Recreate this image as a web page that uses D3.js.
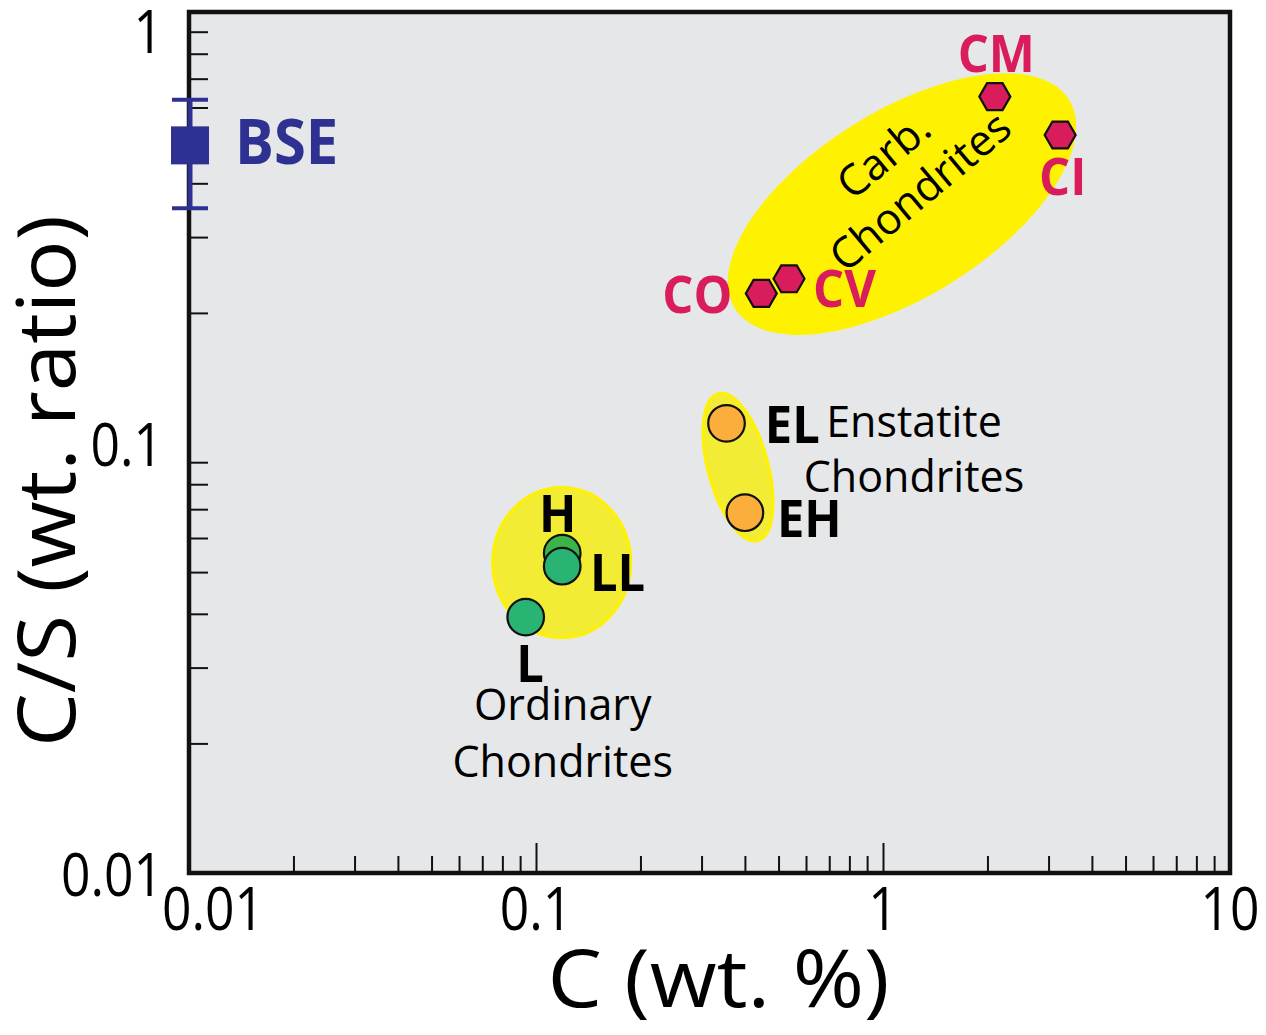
<!DOCTYPE html>
<html>
<head>
<meta charset="utf-8">
<script src="https://cdn.jsdelivr.net/npm/d3@7"></script>
<style>
  html, body { margin: 0; padding: 0; background: #fff; }
  svg { display: block; }
</style>
</head>
<body>
<svg id="chart" width="1266" height="1035"></svg>
<script>
// ---- Data: carbon content (wt.%) and C/S weight ratio ----
const carbNames = ["CM", "CI", "CO", "CV"];
const carbC     = [2.10, 3.24, 0.446, 0.536];
const carbCS    = [0.636, 0.518, 0.222, 0.240];

const ordNames  = ["H", "LL", "L"];
const ordC      = [0.119, 0.119, 0.0934];
const ordCS     = [0.0553, 0.0516, 0.0393];

const enstNames = ["EL", "EH"];
const enstC     = [0.354, 0.400];
const enstCS    = [0.1108, 0.0687];

// Bulk silicate Earth: C/S with its uncertainty range
const bseName = "BSE";
const bseC    = 0.01;
const bseCS   = 0.49;
const bseLow  = 0.35;
const bseHigh = 0.625;

// Group outlines (centre in data units)
const groupNames = ["carb", "ord", "enst"];
const groupC     = [1.134, 0.1186, 0.382];
const groupCS    = [0.358, 0.0526, 0.0877];

// Axis tick labels
const xTickLabels = [0.01, 0.1, 1, 10];
const yTickLabels = [0.01, 0.1, 1];
const xTitle = "C (wt. %)";
const yTitle = "C/S (wt. ratio)";

// ---- Layout & scales ----
const plot = { left: 189, right: 1230, top: 12, bottom: 873 };
const x = d3.scaleLog().domain([0.01, 10]).range([plot.left, plot.right]);
const y = d3.scaleLog().domain([0.01, 1]).range([plot.bottom, plot.top]);

const FONT = "'Open Sans', 'DejaVu Sans', sans-serif";
const svg = d3.select("#chart");

function addText(parent, str, px, py, o) {
  const t = parent.append("text")
    .attr("transform", `translate(${px},${py}) rotate(${o.rotate || 0}) scale(${o.sx || 1},1)`)
    .attr("text-anchor", o.anchor || "start")
    .attr("font-family", FONT)
    .attr("font-size", o.size)
    .attr("font-weight", o.weight || 400)
    .attr("fill", o.fill || "#000")
    .text(str);
  if (o.length) t.attr("textLength", o.length).attr("lengthAdjust", "spacingAndGlyphs");
  return t;
}

// Plot background
svg.append("rect")
  .attr("x", plot.left).attr("y", plot.top)
  .attr("width", plot.right - plot.left).attr("height", plot.bottom - plot.top)
  .attr("fill", "#e6e7e8");

// ---- Group ellipses ----
const groupStyle = {
  carb: { rx: 197, ry: 93, rot: -32, fill: "#fff200", stroke: "none" },
  ord:  { rx: 69,  ry: 75, rot: 0,   fill: "#f3ec35", stroke: "#fff200" },
  enst: { rx: 30,  ry: 76, rot: -15, fill: "#f3ec35", stroke: "#fff200" }
};
const gEll = svg.append("g");
groupNames.forEach((name, i) => {
  const s = groupStyle[name];
  gEll.append("ellipse")
    .attr("transform", `translate(${x(groupC[i])},${y(groupCS[i])}) rotate(${s.rot})`)
    .attr("rx", s.rx).attr("ry", s.ry)
    .attr("fill", s.fill)
    .attr("stroke", s.stroke).attr("stroke-width", 3);
});

// ---- Ticks (drawn inward) ----
const minors = (lo, hi) => {
  const out = [];
  for (let d = lo; d < hi * 0.999; d *= 10) for (let m = 2; m <= 9; m++) out.push(+(d * m).toPrecision(3));
  return out;
};
const xAxisMinor = d3.axisBottom(x).tickValues(minors(0.01, 10)).tickSize(-17).tickFormat("");
const xAxisMajor = d3.axisBottom(x).tickValues([0.1, 1]).tickSize(-30).tickFormat("");
const yAxisMinor = d3.axisLeft(y).tickValues(minors(0.01, 1)).tickSize(-19).tickFormat("");

[xAxisMinor, xAxisMajor].forEach(ax => {
  const g = svg.append("g").attr("transform", `translate(0,${plot.bottom})`).call(ax);
  g.select(".domain").remove();
  g.selectAll(".tick line").attr("stroke", "#111").attr("stroke-width", 2);
});
{
  const g = svg.append("g").attr("transform", `translate(${plot.left},0)`).call(yAxisMinor);
  g.select(".domain").remove();
  g.selectAll(".tick line").attr("stroke", "#111").attr("stroke-width", 2);
}

// Frame
svg.append("rect")
  .attr("x", plot.left).attr("y", plot.top)
  .attr("width", plot.right - plot.left).attr("height", plot.bottom - plot.top)
  .attr("fill", "none").attr("stroke", "#111").attr("stroke-width", 4.5);

// Tick labels
const tickFmt = v => String(v);
xTickLabels.forEach(v => {
  const cx = Math.max(x(v), plot.left + 24);
  addText(svg, tickFmt(v), cx, plot.bottom + 57, { size: 60, anchor: "middle", sx: 0.86 });
});
yTickLabels.forEach(v => {
  const by = Math.max(y(v) + 23, plot.top + 41);
  addText(svg, tickFmt(v), plot.left - 26, by, { size: 60, anchor: "end", sx: 0.86 });
});

// Axis titles
addText(svg, xTitle, (plot.left + plot.right) / 2 + 9, 1007, { size: 80, anchor: "middle", length: 342 });
addText(svg, yTitle, 75, 481, { size: 80, anchor: "middle", rotate: -90, length: 532 });

// ---- Group names ----
{
  const i = groupNames.indexOf("carb");
  const g = svg.append("g")
    .attr("transform", `translate(${x(groupC[i])},${y(groupCS[i])}) rotate(-40)`);
  addText(g, "Carb.", 17, -34, { size: 43, anchor: "middle" });
  addText(g, "Chondrites", 22, 17, { size: 43, anchor: "middle" });
}
{
  const i = groupNames.indexOf("enst");
  const cx = x(groupC[i]) + 176, cy = y(groupCS[i]);
  addText(svg, "Enstatite", cx, cy - 30, { size: 43, anchor: "middle" });
  addText(svg, "Chondrites", cx, cy + 25, { size: 43, anchor: "middle" });
}
{
  const i = groupNames.indexOf("ord");
  const cx = x(groupC[i]) + 1, cy = y(groupCS[i]);
  addText(svg, "Ordinary", cx, cy + 157, { size: 43, anchor: "middle" });
  addText(svg, "Chondrites", cx, cy + 214, { size: 43, anchor: "middle" });
}

// ---- Markers ----
const hexagon = {
  draw(context, size) {
    const r = Math.sqrt(size);
    for (let k = 0; k < 6; k++) {
      const a = Math.PI / 3 * k;
      const px = r * Math.cos(a), py = r * Math.sin(a);
      if (k === 0) context.moveTo(px, py); else context.lineTo(px, py);
    }
    context.closePath();
  }
};

const labelOffsets = {
  CM: [1.5, -25, "middle"], CI: [2.5, 60, "middle"], CO: [-29, 20, "end"], CV: [24, 28, "start"],
  H: [-4.6, -21.6, "middle"], LL: [27.7, 24.7, "start"], L: [4.3, 64.7, "middle"],
  EL: [38.3, 19.4, "start"], EH: [32, 24.3, "start"], BSE: [45, 19, "start"]
};

const crimson = "#d91c5c";
const ordFill = { H: "#39b54a", LL: "#29b473", L: "#29b473" };

// Ordinary chondrites
ordNames.forEach((n, i) => {
  svg.append("circle")
    .attr("cx", x(ordC[i])).attr("cy", y(ordCS[i])).attr("r", 18.3)
    .attr("fill", ordFill[n]).attr("stroke", "#111").attr("stroke-width", 2.2);
});
ordNames.forEach((n, i) => {
  const [dx, dy, anc] = labelOffsets[n];
  addText(svg, n, x(ordC[i]) + dx, y(ordCS[i]) + dy, { size: 52, weight: 700, anchor: anc, sx: 0.94 });
});

// Enstatite chondrites
enstNames.forEach((n, i) => {
  svg.append("circle")
    .attr("cx", x(enstC[i])).attr("cy", y(enstCS[i])).attr("r", 18.3)
    .attr("fill", "#fbae3c").attr("stroke", "#111").attr("stroke-width", 2.2);
  const [dx, dy, anc] = labelOffsets[n];
  addText(svg, n, x(enstC[i]) + dx, y(enstCS[i]) + dy, { size: 52, weight: 700, anchor: anc, sx: 0.94 });
});

// Carbonaceous chondrites
const hexSym = d3.symbol().type(hexagon).size(15.5 * 15.5);
carbNames.forEach((n, i) => {
  svg.append("path")
    .attr("transform", `translate(${x(carbC[i])},${y(carbCS[i])})`)
    .attr("d", hexSym())
    .attr("fill", crimson).attr("stroke", "#111").attr("stroke-width", 2.2);
  const [dx, dy, anc] = labelOffsets[n];
  addText(svg, n, x(carbC[i]) + dx, y(carbCS[i]) + dy, { size: 52, weight: 700, anchor: anc, sx: 0.94, fill: crimson });
});

// Bulk silicate Earth with error bar
{
  const blue = "#2e3192";
  const bx = x(bseC) + 1;
  const g = svg.append("g");
  g.append("line").attr("x1", bx).attr("x2", bx).attr("y1", y(bseHigh)).attr("y2", y(bseLow))
    .attr("stroke", blue).attr("stroke-width", 5);
  [bseHigh, bseLow].forEach(v => {
    g.append("line").attr("x1", bx - 18).attr("x2", bx + 18).attr("y1", y(v)).attr("y2", y(v))
      .attr("stroke", blue).attr("stroke-width", 4);
  });
  g.append("rect").attr("x", bx - 19).attr("y", y(bseCS) - 19).attr("width", 38).attr("height", 38)
    .attr("fill", blue);
  const [dx, dy, anc] = labelOffsets[bseName];
  addText(svg, bseName, bx + dx, y(bseCS) + dy, { size: 63, weight: 700, anchor: anc, sx: 0.92, fill: blue });
}
</script>
</body>
</html>
